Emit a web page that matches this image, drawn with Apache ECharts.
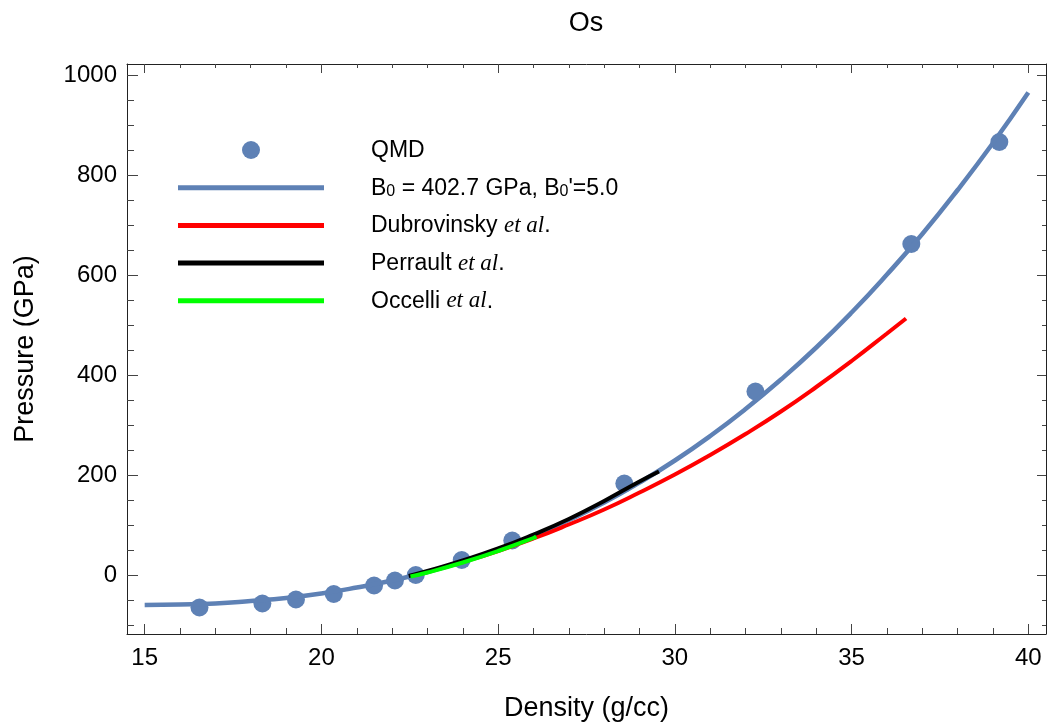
<!DOCTYPE html>
<html>
<head>
<meta charset="utf-8">
<script src="https://cdn.jsdelivr.net/npm/echarts@6/dist/echarts.min.js"></script>
<style>
  html, body { margin: 0; padding: 0; background: #fff; }
  #chart { width: 1047px; height: 724px; }
</style>
</head>
<body>
<div id="chart"></div>
<script>
// Osmium equation of state: pressure vs density

// QMD simulation points
const qmdDensity  = [16.55, 18.33, 19.28, 20.35, 21.49, 22.08, 22.67, 23.97, 25.40, 28.57, 32.28, 36.69, 39.18];
const qmdPressure = [-65, -57, -49, -38, -21, -11, 0, 30, 69, 183, 367, 662, 866];

// Fitted curve (B0 = 402.7 GPa, B0' = 5.0)
const fitDensity  = [15, 16, 17, 18, 19, 20, 21, 22, 23, 24, 25, 26, 27, 28, 29, 30, 31, 32, 33, 34, 35, 36, 37, 38, 39, 40];
const fitPressure = [-60, -59, -57, -52, -46, -37, -25, -11, 6, 27, 51, 78, 110, 145, 185, 229, 278, 332, 391, 455, 525, 601, 682, 770, 864, 965];

// Dubrovinsky et al.
const dubDensity  = [22.66, 23, 24, 25, 26, 27, 28, 29, 30, 31, 32, 33, 34, 35, 36, 36.54];
const dubPressure = [0, 6, 26, 48, 73, 101, 131, 165, 201, 240, 282, 327, 376, 428, 483, 513];

// Perrault et al.
const perDensity  = [22.47, 23, 24, 25, 26, 27, 28, 29, 29.55];
const perPressure = [-2, 8, 29, 53, 81, 112, 148, 187, 207];

// Occelli et al.
const occDensity  = [22.52, 23, 24, 25, 26, 26.08];
const occPressure = [-3, 5, 25, 48, 74, 77];

// Tick positions
const xMajorTicks = [15, 20, 25, 30, 35, 40];
const xMinorTicks = [16, 17, 18, 19, 21, 22, 23, 24, 26, 27, 28, 29, 31, 32, 33, 34, 36, 37, 38, 39];
const yMajorTicks = [0, 200, 400, 600, 800, 1000];
const yMinorTicks = [-100, -50, 50, 100, 150, 250, 300, 350, 450, 500, 550, 650, 700, 750, 850, 900, 950];

// Legend names
const nameQMD = 'QMD';
const nameFit = "B0 = 402.7 GPa, B0'=5.0";
const nameDub = 'Dubrovinsky et al.';
const namePer = 'Perrault et al.';
const nameOcc = 'Occelli et al.';

const zip = (xs, ys) => xs.map((x, i) => [x, ys[i]]);

const FONT = 'Liberation Sans, Arial, sans-serif';
const X_MIN = 14.5, X_MAX = 40.5, Y_MIN = -118, Y_MAX = 1022;
const frameColor = '#222';
const tickColor = '#444';
const plainNumber = v => String(v);

function xAxisDef(pos, ticks, len, withLine, withLabels) {
  return {
    type: 'value', min: X_MIN, max: X_MAX, position: pos,
    axisLine: { show: withLine, onZero: false, lineStyle: { color: frameColor, width: 1 } },
    axisTick: { show: true, inside: true, length: len, customValues: ticks, lineStyle: { color: tickColor, width: 1 } },
    axisLabel: withLabels
      ? { show: true, customValues: ticks, formatter: plainNumber, fontFamily: FONT, fontSize: 24, color: '#000', margin: 12 }
      : { show: false },
    splitLine: { show: false }
  };
}
function yAxisDef(pos, ticks, len, withLine, withLabels) {
  return {
    type: 'value', min: Y_MIN, max: Y_MAX, position: pos,
    axisLine: { show: withLine, onZero: false, lineStyle: { color: frameColor, width: 1 } },
    axisTick: { show: true, inside: true, length: len, customValues: ticks, lineStyle: { color: tickColor, width: 1 } },
    axisLabel: withLabels
      ? { show: true, customValues: ticks, formatter: plainNumber, fontFamily: FONT, fontSize: 24, color: '#000', margin: 10 }
      : { show: false },
    splitLine: { show: false }
  };
}

const xAxes = [
  xAxisDef('bottom', xMajorTicks, 10, true, true),
  xAxisDef('bottom', xMinorTicks, 6, false, false),
  xAxisDef('top', xMajorTicks, 9, true, false),
  xAxisDef('top', xMinorTicks, 4, false, false)
];
Object.assign(xAxes[0], {
  name: 'Density (g/cc)', nameLocation: 'middle', nameGap: 61,
  nameTextStyle: { fontFamily: FONT, fontSize: 27, color: '#000' }
});

const yAxes = [
  yAxisDef('left', yMajorTicks, 11, true, true),
  yAxisDef('left', yMinorTicks, 7, false, false),
  yAxisDef('right', yMajorTicks, 9, true, false),
  yAxisDef('right', yMinorTicks, 4, false, false)
];
Object.assign(yAxes[0], {
  name: 'Pressure (GPa)', nameLocation: 'middle', nameGap: 88, nameRotate: 90,
  nameTextStyle: { fontFamily: FONT, fontSize: 27, color: '#000' }
});

const etal = '{i|et al}{n|.}';
const legendLabels = {};
legendLabels[nameQMD] = '{n|QMD}';
legendLabels[nameFit] = "{n|B}{s|0}{n| = 402.7 GPa, B}{s|0}{n|'=5.0}";
legendLabels[nameDub] = '{n|Dubrovinsky }' + etal;
legendLabels[namePer] = '{n|Perrault }' + etal;
legendLabels[nameOcc] = '{n|Occelli }' + etal;

// Legend icons: a flat bar for the curves, a dot for the points
const lineIcon = 'path://M0,0L146,0L146,5L0,5Z';

const option = {
  animation: false,
  backgroundColor: '#fff',
  title: {
    text: 'Os', left: 581, top: 5, textAlign: 'center',
    textStyle: { fontFamily: FONT, fontSize: 27, fontWeight: 'normal', color: '#000' }
  },
  grid: { left: 127, right: 1, top: 64, bottom: 90, containLabel: false, outerBoundsMode: 'none' },
  xAxis: xAxes,
  yAxis: yAxes,
  legend: {
    orient: 'vertical', left: 173, top: 133,
    itemWidth: 146, itemHeight: 18, itemGap: 13.7,
    itemStyle: { borderWidth: 0 },
    data: [
      { name: nameQMD, icon: 'circle' },
      { name: nameFit, icon: lineIcon },
      { name: nameDub, icon: lineIcon },
      { name: namePer, icon: lineIcon },
      { name: nameOcc, icon: lineIcon }
    ],
    formatter: name => legendLabels[name],
    textStyle: {
      fontFamily: FONT, fontSize: 23, lineHeight: 18, color: '#000', padding: [6, 0, 0, 42],
      rich: {
        n: { fontFamily: FONT, fontSize: 23, color: '#000', lineHeight: 18, verticalAlign: 'bottom' },
        s: { fontFamily: FONT, fontSize: 16, color: '#000', lineHeight: 17, verticalAlign: 'bottom' },
        i: { fontFamily: 'Liberation Serif, serif', fontStyle: 'italic', fontSize: 23, color: '#000', lineHeight: 18, verticalAlign: 'bottom' }
      }
    }
  },
  series: [
    {
      name: nameQMD, type: 'scatter', z: 1,
      symbol: 'circle', symbolSize: 18,
      itemStyle: { color: '#5E81B5', opacity: 1 },
      data: zip(qmdDensity, qmdPressure)
    },
    {
      name: nameFit, type: 'line', z: 2, smooth: true, symbol: 'none',
      lineStyle: { color: '#5E81B5', width: 4.5 }, itemStyle: { color: '#5E81B5' },
      data: zip(fitDensity, fitPressure)
    },
    {
      name: nameDub, type: 'line', z: 3, smooth: true, symbol: 'none',
      lineStyle: { color: '#FF0000', width: 4 }, itemStyle: { color: '#FF0000' },
      data: zip(dubDensity, dubPressure)
    },
    {
      name: namePer, type: 'line', z: 4, smooth: true, symbol: 'none',
      lineStyle: { color: '#000000', width: 4 }, itemStyle: { color: '#000000' },
      data: zip(perDensity, perPressure)
    },
    {
      name: nameOcc, type: 'line', z: 5, smooth: true, symbol: 'none',
      lineStyle: { color: '#00FF00', width: 4 }, itemStyle: { color: '#00FF00' },
      data: zip(occDensity, occPressure)
    }
  ]
};

const chart = echarts.init(document.getElementById('chart'), null, { renderer: 'canvas' });
chart.setOption(option);
</script>
</body>
</html>
